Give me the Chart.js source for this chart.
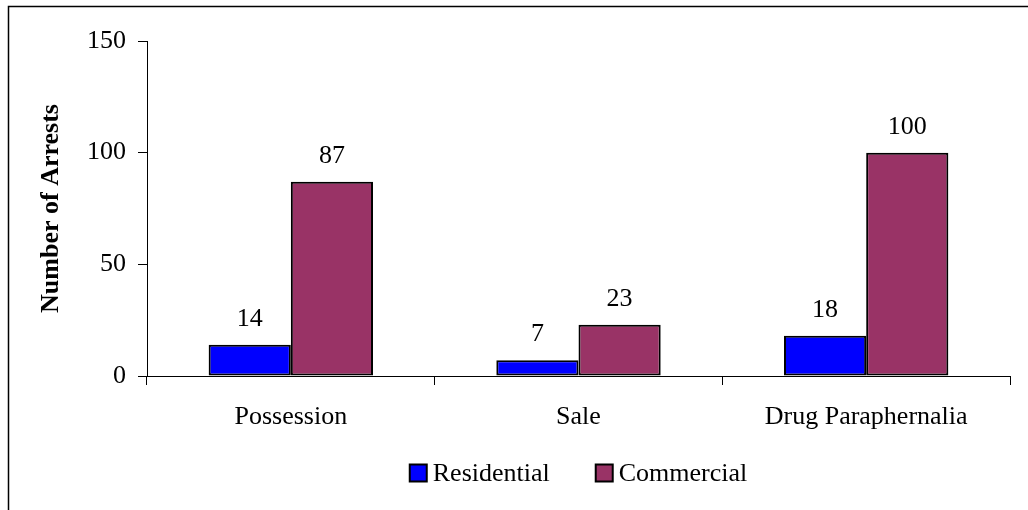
<!DOCTYPE html>
<html>
<head>
<meta charset="utf-8">
<script src="https://cdn.jsdelivr.net/npm/chart.js@4.4.1/dist/chart.umd.min.js"></script>
<style>
    html, body { margin: 0; padding: 0; background: #fff; }
    canvas { display: block; }
</style>
</head>
<body>
<canvas id="arrestsChart" width="1028" height="510"></canvas>
<script>
    // Chart data
    const categories = ['Possession', 'Sale', 'Drug Paraphernalia'];
    const residential = [14, 7, 18];
    const commercial = [87, 23, 100];
    const seriesNames = ['Residential', 'Commercial'];
    const yTicks = [0, 50, 100, 150];

    const serif = "'Liberation Serif', 'Times New Roman', serif";
    const fontSize = 26;

    // outer frame (only top/left edges visible in the original crop)
    const framePlugin = {
        id: 'frame',
        beforeDraw(chart) {
            const ctx = chart.ctx;
            ctx.save();
            ctx.fillStyle = '#fff';
            ctx.fillRect(0, 0, chart.width, chart.height);
            ctx.strokeStyle = '#000';
            ctx.lineWidth = 1.5;
            ctx.strokeRect(8.5, 6.5, chart.width + 20, chart.height + 20);
            ctx.restore();
        }
    };

    // value labels above each bar
    const valueLabels = {
        id: 'valueLabels',
        afterDatasetsDraw(chart) {
            const ctx = chart.ctx;
            ctx.save();
            ctx.font = fontSize + 'px ' + serif;
            ctx.fillStyle = '#000';
            ctx.textAlign = 'center';
            ctx.textBaseline = 'alphabetic';
            chart.data.datasets.forEach((ds, i) => {
                chart.getDatasetMeta(i).data.forEach((bar, j) => {
                    ctx.fillText(String(ds.data[j]), bar.x, bar.y - 19);
                });
            });
            ctx.restore();
        }
    };

    // legend drawn by hand so spacing matches the original
    const bottomLegend = {
        id: 'bottomLegend',
        afterDraw(chart) {
            const ctx = chart.ctx;
            const box = 17, gap = 6, between = 46, cy = 473;
            ctx.save();
            ctx.font = fontSize + 'px ' + serif;
            const items = chart.data.datasets.map(ds => ({
                text: ds.label,
                color: ds.backgroundColor,
                w: ctx.measureText(ds.label).width
            }));
            let total = 0;
            items.forEach((it, i) => {
                total += box + gap + it.w + (i < items.length - 1 ? between : 0);
            });
            const area = chart.chartArea;
            let x = (area.left + area.right) / 2 - total / 2;
            ctx.textBaseline = 'middle';
            ctx.textAlign = 'left';
            items.forEach(it => {
                ctx.fillStyle = it.color;
                ctx.fillRect(x, cy - box / 2, box, box);
                ctx.strokeStyle = '#000';
                ctx.lineWidth = 2;
                ctx.strokeRect(x, cy - box / 2, box, box);
                ctx.fillStyle = '#000';
                ctx.fillText(it.text, x + box + gap, cy + 1);
                x += box + gap + it.w + between;
            });
            ctx.restore();
        }
    };

    new Chart(document.getElementById('arrestsChart'), {
        type: 'bar',
        data: {
            labels: categories,
            datasets: [{
                label: seriesNames[0],
                data: residential,
                backgroundColor: '#0000FF',
                borderColor: '#000',
                borderWidth: 2,
                borderSkipped: false
            }, {
                label: seriesNames[1],
                data: commercial,
                backgroundColor: '#993366',
                borderColor: '#000',
                borderWidth: 2,
                borderSkipped: false
            }]
        },
        options: {
            responsive: false,
            animation: false,
            devicePixelRatio: 1,
            layout: { padding: { top: 41, right: 18, bottom: 0, left: 0 } },
            datasets: {
                bar: { categoryPercentage: 2 / 3.5, barPercentage: 1 }
            },
            plugins: {
                legend: { display: false },
                tooltip: { enabled: false }
            },
            scales: {
                x: {
                    grid: {
                        offset: true,
                        drawOnChartArea: false,
                        tickLength: 9,
                        tickColor: '#000'
                    },
                    border: { color: '#000', width: 1 },
                    ticks: {
                        color: '#000',
                        font: { family: serif, size: fontSize },
                        padding: 17,
                        maxRotation: 0
                    },
                    afterFit(scale) { scale.height = 134; }
                },
                y: {
                    min: 0,
                    max: 150,
                    afterBuildTicks(scale) {
                        scale.ticks = yTicks.map(v => ({ value: v }));
                    },
                    grid: {
                        drawOnChartArea: false,
                        tickLength: 9,
                        tickColor: '#000'
                    },
                    border: { color: '#000', width: 1 },
                    ticks: {
                        color: '#000',
                        font: { family: serif, size: fontSize },
                        padding: 12
                    },
                    title: {
                        display: true,
                        text: 'Number of Arrests',
                        color: '#000',
                        font: { family: serif, size: fontSize, weight: 'bold' },
                        padding: { top: 36, bottom: 0 }
                    },
                    afterFit(scale) { scale.width = 147; }
                }
            }
        },
        plugins: [framePlugin, valueLabels, bottomLegend]
    });
</script>
</body>
</html>
